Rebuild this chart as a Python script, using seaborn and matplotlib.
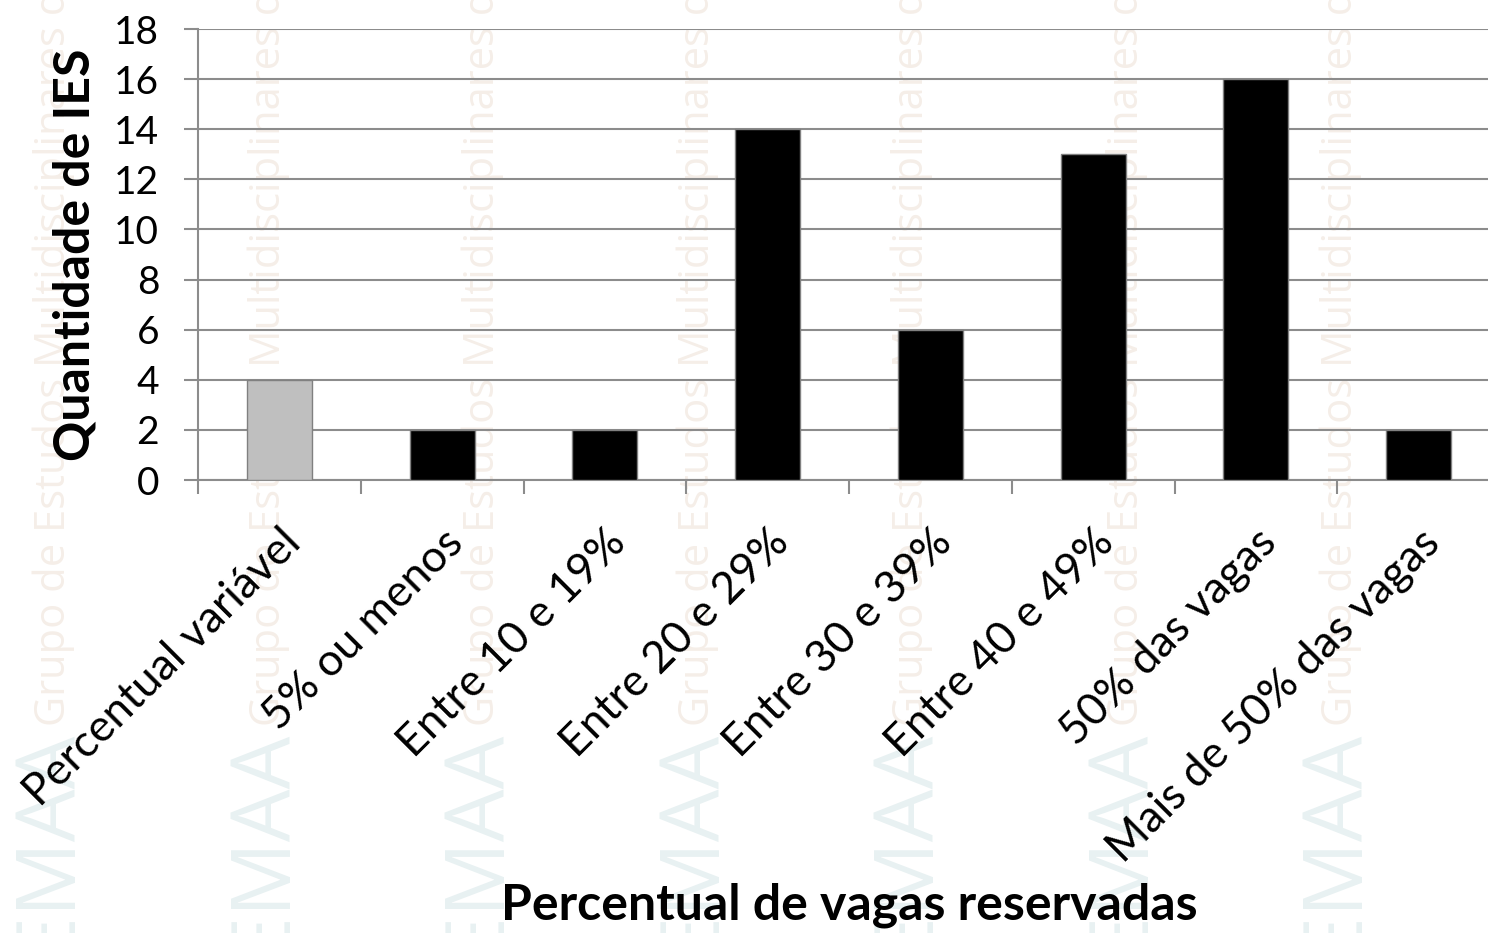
import matplotlib
matplotlib.use("Agg")
import matplotlib.pyplot as plt
import seaborn as sns
import pandas as pd

categorias = [
    "Percentual variável",
    "5% ou menos",
    "Entre 10 e 19%",
    "Entre 20 e 29%",
    "Entre 30 e 39%",
    "Entre 40 e 49%",
    "50% das vagas",
    "Mais de 50% das vagas",
]
quantidade = [4, 2, 2, 14, 6, 13, 16, 2]
cores = ["#bfbfbf"] + ["#000000"] * 7
y_ticks = [0, 2, 4, 6, 8, 10, 12, 14, 16, 18]

sns.set_theme(style="white")
plt.rcParams["font.family"] = ["Lato", "DejaVu Sans"]

df = pd.DataFrame({"categoria": categorias, "quantidade": quantidade})

fig = plt.figure(figsize=(14.88, 9.33), dpi=100)
fig.patch.set_facecolor("white")
ax = fig.add_axes([0.1331, 0.4855, 0.875, 0.4834])
ax.set_facecolor("none")

# faint background watermark columns
marca = "Grupo de Estudos Multidisciplinares da Ação Afirmativa"
for i in range(7):
    x = (54 + i * 214.5) / 1488
    fig.text(x, 1 - 726 / 933, marca, rotation=90, ha="center", va="bottom",
             fontsize=30, color="#f5eee8", zorder=-5,
             family=["Open Sans", "DejaVu Sans"])
    fig.text(x - 4 / 1488, 1 - 730 / 933, "GEMAA", rotation=90, ha="center", va="top",
             fontsize=60, color="#e8f1f2", zorder=-5,
             family=["Open Sans", "DejaVu Sans"])

sns.barplot(data=df, x="categoria", y="quantidade", hue="categoria",
            palette=cores, legend=False, width=0.4, ax=ax,
            edgecolor="#808080", linewidth=1.0, zorder=3, saturation=1)

ax.set_xlim(-0.5, len(categorias) - 0.5)
ax.set_ylim(0, 18)
ax.set_yticks(y_ticks)
ax.set_yticklabels([str(v) for v in y_ticks])

ax.yaxis.grid(True, color="#8c8c8c", linewidth=1.5, zorder=0)
ax.xaxis.grid(False)
ax.set_axisbelow(True)

for side in ["top", "right"]:
    ax.spines[side].set_visible(False)
for side in ["left", "bottom"]:
    ax.spines[side].set_visible(True)
    ax.spines[side].set_color("#8c8c8c")
    ax.spines[side].set_linewidth(1.5)

# category boundary ticks on the x axis
ax.set_xticks([i for i in range(len(categorias))])
ax.set_xticklabels(categorias, rotation=45, ha="right", rotation_mode="anchor",
                   fontsize=32, color="black")
ax.set_xticks([i - 0.5 for i in range(len(categorias) + 1)], minor=True)
ax.tick_params(axis="x", which="major", length=0, pad=30)
ax.tick_params(axis="x", which="minor", length=10, width=1.5, color="#8c8c8c",
               bottom=True)
ax.tick_params(axis="y", which="major", length=10, width=1.5, color="#8c8c8c",
               labelsize=28, labelcolor="black", pad=18, left=True)

ax.set_ylabel("Quantidade de IES", fontsize=36, fontweight="bold", color="black",
              labelpad=12)
ax.set_xlabel("Percentual de vagas reservadas", fontsize=36, fontweight="bold",
              color="black")
ax.xaxis.set_label_coords(0.5, -0.942)
ax.xaxis.label.set_va("center")

fig.savefig("out.png", dpi=100, facecolor="white")
